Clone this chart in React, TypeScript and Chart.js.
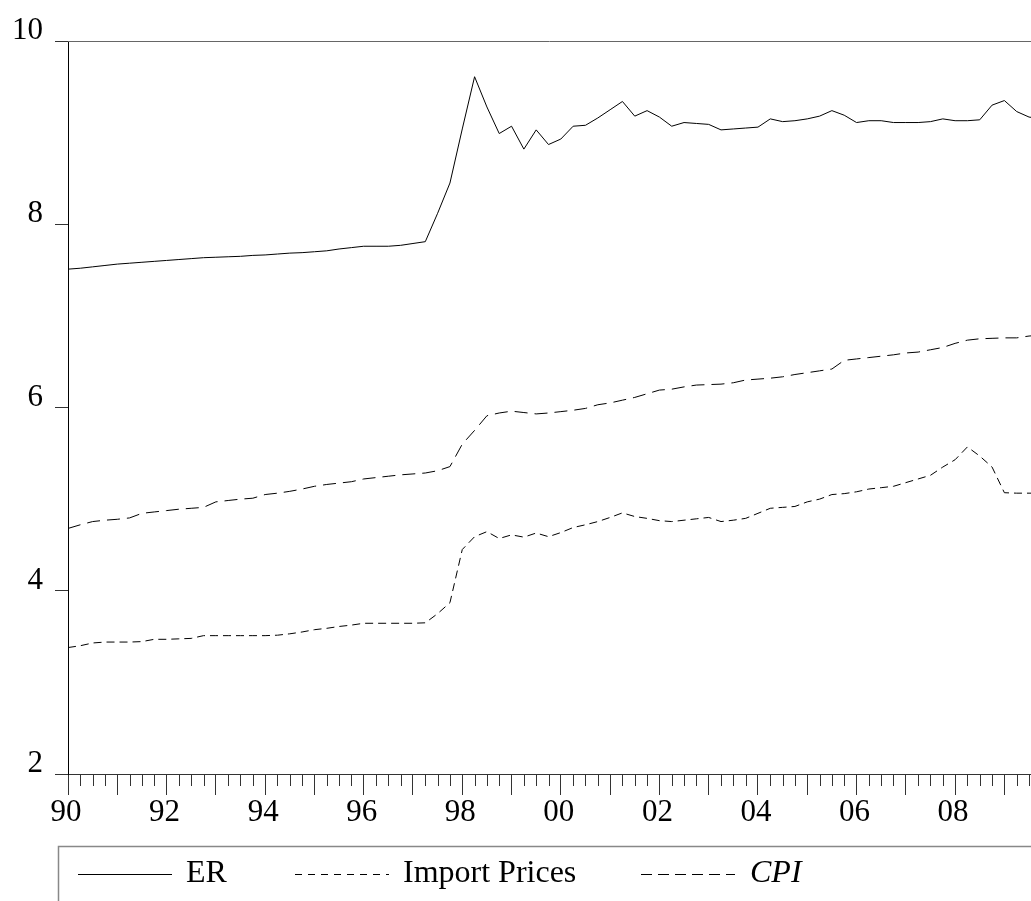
import React, { useEffect, useRef } from 'react';
import { Chart, registerables } from 'chart.js';

Chart.register(...registerables);

// ---- Data (quarterly, 1990Q1 .. 2009Q4) ----
const START_YEAR = 1990;
const PERIODS: string[] = Array.from({ length: 80 }, (_, i) => `${START_YEAR + Math.floor(i / 4)}Q${(i % 4) + 1}`);

const ER = [
  7.51, 7.52, 7.535, 7.55,
  7.565, 7.575, 7.585, 7.595,
  7.605, 7.615, 7.625, 7.635,
  7.64, 7.645, 7.65, 7.66,
  7.665, 7.675, 7.685, 7.69,
  7.70, 7.71, 7.73, 7.745,
  7.76, 7.76, 7.76, 7.77,
  7.79, 7.81, 8.12, 8.45,
  9.04, 9.61, 9.28, 8.99,
  9.07, 8.82, 9.03, 8.87,
  8.93, 9.07, 9.08, 9.16,
  9.25, 9.34, 9.18, 9.24,
  9.17, 9.07, 9.11, 9.10,
  9.09, 9.03, 9.04, 9.05,
  9.06, 9.15, 9.12, 9.13,
  9.15, 9.18, 9.24, 9.19,
  9.11, 9.13, 9.13, 9.11,
  9.11, 9.11, 9.12, 9.15,
  9.13, 9.13, 9.14, 9.30,
  9.35, 9.23, 9.17, 9.15,
];

const IMPORT_PRICES = [
  3.38, 3.40, 3.43, 3.44,
  3.44, 3.44, 3.445, 3.47,
  3.47, 3.475, 3.48, 3.51,
  3.51, 3.51, 3.51, 3.51,
  3.51, 3.515, 3.53, 3.55,
  3.575, 3.59, 3.61, 3.625,
  3.645, 3.645, 3.645, 3.645,
  3.645, 3.65, 3.75, 3.87,
  4.45, 4.59, 4.645, 4.57,
  4.61, 4.585, 4.63, 4.59,
  4.635, 4.69, 4.72, 4.755,
  4.80, 4.85, 4.81, 4.79,
  4.765, 4.755, 4.77, 4.785,
  4.80, 4.755, 4.77, 4.79,
  4.845, 4.90, 4.91, 4.92,
  4.97, 5.00, 5.05, 5.06,
  5.08, 5.11, 5.125, 5.14,
  5.18, 5.22, 5.26, 5.35,
  5.43, 5.57, 5.47, 5.35,
  5.07, 5.065, 5.065, 5.065,
];

const CPI = [
  4.68, 4.72, 4.755, 4.77,
  4.78, 4.795, 4.845, 4.86,
  4.875, 4.89, 4.90, 4.91,
  4.97, 4.985, 5.00, 5.01,
  5.05, 5.065, 5.085, 5.11,
  5.14, 5.16, 5.175, 5.19,
  5.22, 5.235, 5.25, 5.265,
  5.275, 5.285, 5.31, 5.355,
  5.60, 5.75, 5.91, 5.94,
  5.96, 5.945, 5.93, 5.94,
  5.955, 5.97, 5.99, 6.03,
  6.05, 6.08, 6.11, 6.15,
  6.19, 6.20, 6.225, 6.245,
  6.25, 6.255, 6.27, 6.30,
  6.31, 6.32, 6.335, 6.36,
  6.38, 6.40, 6.42, 6.515,
  6.53, 6.545, 6.56, 6.575,
  6.595, 6.605, 6.63, 6.655,
  6.70, 6.735, 6.75, 6.755,
  6.76, 6.76, 6.78, 6.79,
];

const Y_MIN = 2;
const Y_MAX = 10;
const Y_STEP = 2;
const X_MIN = 1990;
const X_MAX = 2009.54;

const SERIES_LABELS = ['ER', 'Import Prices', 'CPI'];

const FONT_FAMILY = '"Liberation Serif", "Times New Roman", Times, serif';

function periodToX(p: string): number {
  const [y, q] = p.split('Q');
  return Number(y) + (Number(q) - 1) / 4;
}

function toPoints(values: number[]) {
  return values.map((v, i) => ({ x: periodToX(PERIODS[i]), y: v }));
}

const framePlugin = {
  id: 'eviewsFrame',
  afterDraw(chart: any) {
    const { ctx, chartArea, scales } = chart;
    const xs = scales.x;
    ctx.save();
    // top frame line
    ctx.strokeStyle = '#666';
    ctx.lineWidth = 1;
    ctx.beginPath();
    ctx.moveTo(chartArea.left, chartArea.top + 0.5);
    ctx.lineTo(chartArea.right, chartArea.top + 0.5);
    ctx.stroke();
    // quarterly minor ticks
    ctx.strokeStyle = '#333';
    ctx.beginPath();
    for (let v = xs.min; v <= xs.max + 1e-9; v += 0.25) {
      if (Math.abs(v - Math.round(v)) < 1e-9) continue;
      const px = Math.round(xs.getPixelForValue(v)) + 0.5;
      ctx.moveTo(px, chartArea.bottom);
      ctx.lineTo(px, chartArea.bottom + 12);
    }
    ctx.stroke();

    // legend box
    ctx.strokeStyle = '#888';
    ctx.lineWidth = 1.5;
    ctx.strokeRect(58.5, 846.5, 1200, 200);

    const ds = chart.data.datasets;
    const lineStarts = [78, 295, 641];
    const textStarts = [186, 403, 750];
    const legendDash = [[], [7, 6], [11, 6]];
    const lineY = 874.5;
    const baseY = 882;
    ds.forEach((d: any, i: number) => {
      ctx.strokeStyle = '#000';
      ctx.lineWidth = 1;
      ctx.setLineDash(legendDash[i]);
      ctx.beginPath();
      ctx.moveTo(lineStarts[i], lineY);
      ctx.lineTo(lineStarts[i] + 94, lineY);
      ctx.stroke();
      ctx.setLineDash([]);
      ctx.fillStyle = '#000';
      ctx.font = `${i === 2 ? 'italic ' : ''}32px ${FONT_FAMILY}`;
      ctx.textAlign = 'left';
      ctx.textBaseline = 'alphabetic';
      ctx.fillText(d.label, textStarts[i], baseY);
    });
    ctx.restore();
  },
};

export default function App() {
  const canvasRef = useRef<HTMLCanvasElement | null>(null);

  useEffect(() => {
    const canvas = canvasRef.current;
    if (!canvas) return;
    const chart = new Chart(canvas, {
      type: 'line',
      data: {
        datasets: [
          {
            label: SERIES_LABELS[0],
            data: toPoints(ER),
            borderColor: '#000',
            borderWidth: 1,
            pointRadius: 0,
            tension: 0,
            fill: false,
          },
          {
            label: SERIES_LABELS[1],
            data: toPoints(IMPORT_PRICES),
            borderColor: '#000',
            borderWidth: 1,
            borderDash: [8, 5],
            pointRadius: 0,
            tension: 0,
            fill: false,
          },
          {
            label: SERIES_LABELS[2],
            data: toPoints(CPI),
            borderColor: '#000',
            borderWidth: 1,
            borderDash: [13, 7],
            pointRadius: 0,
            tension: 0,
            fill: false,
          },
        ],
      },
      options: {
        animation: false,
        responsive: true,
        maintainAspectRatio: false,
        layout: { padding: { top: 41, left: 0, right: 0, bottom: 0 } },
        plugins: {
          legend: { display: false },
          tooltip: { enabled: false },
          title: { display: false },
        },
        scales: {
          x: {
            type: 'linear',
            min: X_MIN,
            max: X_MAX,
            afterFit: (s: any) => {
              s.height = 127;
            },
            border: { display: true, color: '#333', width: 1 },
            grid: {
              drawOnChartArea: false,
              drawTicks: true,
              tickLength: 21,
              color: '#333',
            },
            ticks: {
              stepSize: 1,
              autoSkip: false,
              includeBounds: false,
              maxRotation: 0,
              minRotation: 0,
              padding: 2,
              labelOffset: -2,
              color: '#000',
              font: { family: FONT_FAMILY, size: 31, lineHeight: 1 },
              callback: (v: any) => {
                const n = Math.round(Number(v));
                return n % 2 === 0 ? String(n % 100).padStart(2, '0') : '';
              },
            },
          },
          y: {
            type: 'linear',
            min: Y_MIN,
            max: Y_MAX,
            afterFit: (s: any) => {
              s.width = 68;
            },
            border: { display: true, color: '#000', width: 1 },
            grid: {
              drawOnChartArea: false,
              drawTicks: true,
              tickLength: 13,
              color: '#333',
            },
            ticks: {
              stepSize: Y_STEP,
              padding: 12,
              labelOffset: -10,
              color: '#000',
              font: { family: FONT_FAMILY, size: 31 },
            },
          },
        },
      },
      plugins: [framePlugin],
    });
    return () => {
      chart.destroy();
    };
  }, []);

  return (
    <div style={{ position: 'absolute', left: 0, top: 0, width: 1031, height: 901, background: '#fff' }}>
      <canvas ref={canvasRef} />
    </div>
  );
}
